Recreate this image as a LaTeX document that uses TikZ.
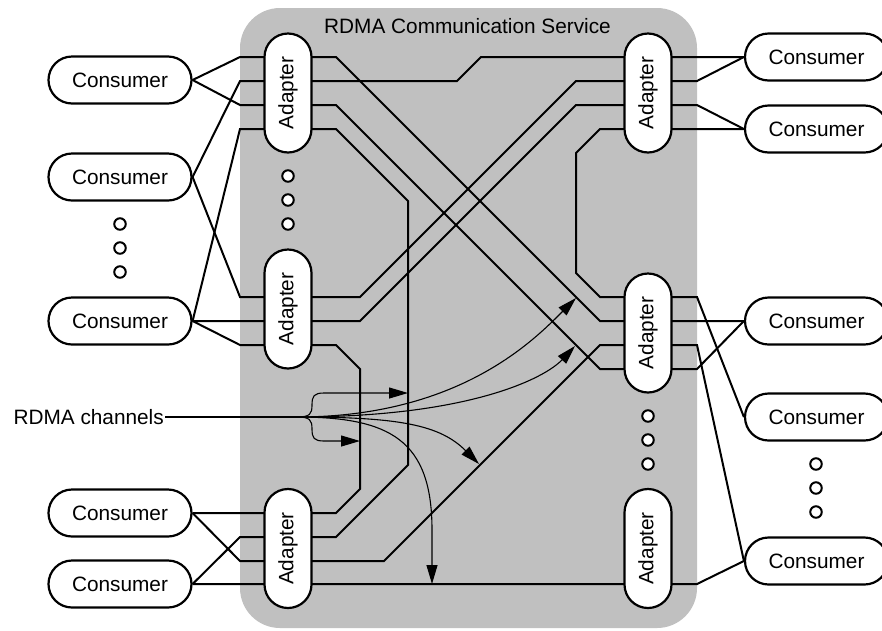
\documentclass[tikz,border=0pt]{standalone}
\usepackage{fontspec}
\setmainfont{Liberation Sans}
\usepackage{graphicx}
\usetikzlibrary{arrows.meta}
\pgfdeclarelayer{bg}
\pgfdeclarelayer{mid}
\pgfsetlayers{bg,mid,main}
\definecolor{svcgray}{RGB}{192,192,192}
\newcommand\dfont{\fontsize{20.8}{25}\selectfont}
\begin{document}
\begin{tikzpicture}[x=1pt,y=-1pt,
  pill/.style={draw, line width=2.2pt, fill=white, rounded corners=23.5pt, inner sep=0pt, font=\dfont},
  consumer/.style={pill, minimum width=143pt, minimum height=47pt},
  adapter/.style={pill, minimum width=47pt, minimum height=119pt},
  wire/.style={line width=2pt, line join=miter},
  thin/.style={line width=1.1pt},
  chan/.style={thin, -{Triangle[length=19pt,width=11pt]}},
  dot/.style={draw, line width=2pt, fill=white, circle, minimum size=11.5pt, inner sep=0pt}]
\useasboundingbox (0,0) rectangle (882,630);

% service container
\begin{pgfonlayer}{bg}
\fill[svcgray, rounded corners=40pt] (240,8) rectangle (697,628);
\end{pgfonlayer}
\node[font=\dfont, anchor=base] (title) at (467.5,33) {RDMA Communication Service};

% consumers
\node[consumer] (lc1) at (120,80) {Consumer};
\node[consumer] (lc2) at (120,177) {Consumer};
\node[consumer] (lc3) at (120,321) {Consumer};
\node[consumer] (lc4) at (120,513) {Consumer};
\node[consumer] (lc5) at (120,584) {Consumer};
\node[consumer] (rc1) at (816.5,57) {Consumer};
\node[consumer] (rc2) at (816.5,129) {Consumer};
\node[consumer] (rc3) at (816.5,321) {Consumer};
\node[consumer] (rc4) at (816.5,417) {Consumer};
\node[consumer] (rc5) at (816.5,561) {Consumer};

% adapters
\node[adapter] (la1) at (288,93) {\rotatebox{90}{Adapter}};
\node[adapter] (la2) at (288,309) {\rotatebox{90}{Adapter}};
\node[adapter] (la3) at (288,548.5) {\rotatebox{90}{Adapter}};
\node[adapter] (ra1) at (648,93) {\rotatebox{90}{Adapter}};
\node[adapter] (ra2) at (648,333) {\rotatebox{90}{Adapter}};
\node[adapter] (ra3) at (648,548.5) {\rotatebox{90}{Adapter}};

% ellipsis dots
\foreach \y [count=\i] in {224,248,272} {\node[dot] (lcd\i) at (120,\y) {};}
\foreach \y [count=\i] in {176,200,224} {\node[dot] (lad\i) at (288,\y) {};}
\foreach \y [count=\i] in {416,440,464} {\node[dot] (rad\i) at (648,\y) {};}
\foreach \y [count=\i] in {464,488,512} {\node[dot] (rcd\i) at (816,\y) {};}

% label
\node[font=\dfont, anchor=east, inner sep=1pt] (lbl) at (165,417) {RDMA channels};
\coordinate (fan) at (297,417);

\begin{pgfonlayer}{mid}
\draw[wire] (lc1.east) -- (240,57) -- (336,57) -- (600,321) -- (rc3.west);
\draw[wire] (lc1.east) -- (240,105) -- (336,105) -- (600,369) -- (697,369) -- (rc3.west);
\draw[wire] (lc2.east) -- (240,81) -- (457,81) -- (481,57) -- (rc1.west);
\draw[wire] (lc3.east) -- (240,129) -- (336,129) -- (408,201) -- (408,465) -- (336,537) -- (240,537) -- (lc5.east);
\draw[wire] (lc2.east) -- (240,297) -- (360,297) -- (576,81) -- (697,81) -- (rc1.west);
\draw[wire] (lc3.east) -- (360,321) -- (576,105) -- (697,105) -- (rc2.west);
\draw[wire] (lc3.east) -- (240,345) -- (336,345) -- (360,369) -- (360,489) -- (336,513) -- (lc4.east);
\draw[wire] (lc4.east) -- (240,561) -- (384,561) -- (600,345) -- (697,345) -- (rc5.west);
\draw[wire] (lc5.east) -- (697,584) -- (rc5.west);
\draw[wire] (rc2.west) -- (600,129) -- (576,153) -- (576,273) -- (600,297) -- (697,297) -- (rc4.west);

% RDMA channel pointers
\draw[thin] (lbl.east) -- (fan);
\draw[chan] (fan) .. controls (310,417) and (312,414) .. (312,405) .. controls (312,396) and (314,393) .. (324,393) -- (408,393);
\draw[chan] (fan) .. controls (310,417) and (312,420) .. (312,429) .. controls (312,438) and (314,441) .. (324,441) -- (360,441);
\draw[chan] (fan) .. controls (460,417) and (535,339) .. (576,298);
\draw[chan] (fan) .. controls (470,417) and (545,378) .. (575,346);
\draw[chan] (fan) .. controls (400,417) and (440,425) .. (479,464);
\draw[chan] (fan) .. controls (390,417) and (432,440) .. (432,530) -- (432,584);
\end{pgfonlayer}
\end{tikzpicture}
\end{document}
